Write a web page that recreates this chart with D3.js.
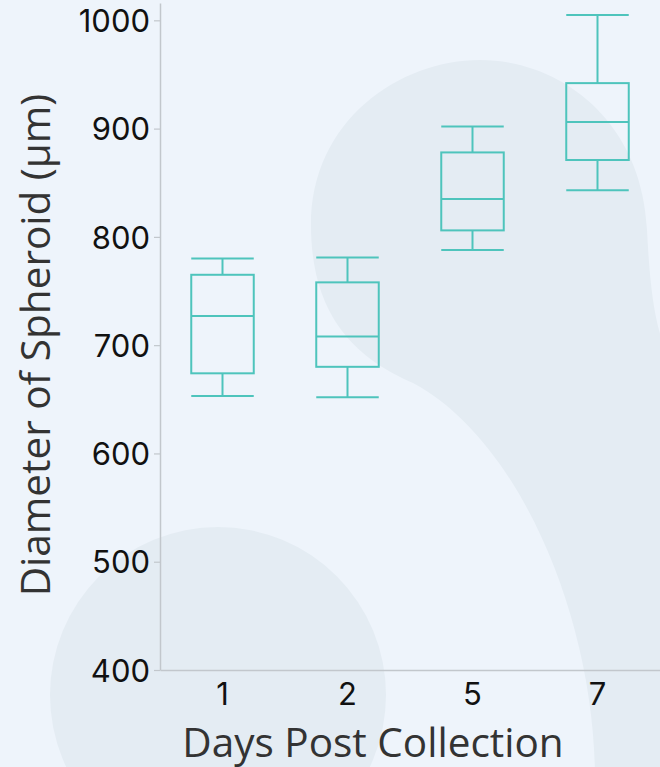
<!DOCTYPE html>
<html><head><meta charset="utf-8">
<script src="https://cdn.jsdelivr.net/npm/d3@7"></script>
<style>html,body{margin:0;padding:0;background:#eef4fb;}svg{display:block;}</style>
</head><body>
<script>
const categories = ["1", "2", "5", "7"];
const whiskerLow = [653, 652, 788, 843];
const q1 = [674, 680, 806, 871];
const median = [727, 708, 835, 906];
const q3 = [765, 758, 878, 942];
const whiskerHigh = [780, 781, 902, 1005];
const yTicks = [400, 500, 600, 700, 800, 900, 1000];

const W = 660, H = 767;
const svg = d3.select("body").append("svg").attr("width", W).attr("height", H);
svg.append("rect").attr("width", W).attr("height", H).attr("fill", "#eef4fb");
const blob = "#e4ecf3";
svg.append("circle").attr("cx", 218).attr("cy", 695).attr("r", 168).attr("fill", blob);
svg.append("path").attr("fill", blob)
  .attr("d", "M311,225 C311,120 400,60 480,60 C560,60 642,120 647,230 C650,290 655,330 670,360 L670,780 L595,780 C595,620 520,440 413,383 C360,360 311,320 311,225 Z");

const x = d3.scaleBand().domain(categories).range([160, 660]).paddingInner(0.5).paddingOuter(0.25);
const y = d3.scaleLinear().domain([400, 1016]).range([670, 3]);

const data = categories.map((c, i) => ({c, lo: whiskerLow[i], q1: q1[i], med: median[i], q3: q3[i], hi: whiskerHigh[i]}));

const axisColor = "#c2c7cc";
const tickFont = "Inter, sans-serif";
// y axis
const yAxis = svg.append("g").attr("transform", "translate(160,0)")
  .call(d3.axisLeft(y).tickValues(yTicks).tickFormat(d3.format("d")).tickSize(6).tickPadding(4).tickSizeOuter(0));
yAxis.select(".domain").attr("stroke", axisColor).attr("stroke-width", 1.5);
yAxis.selectAll(".tick line").attr("stroke", axisColor).attr("stroke-width", 1.2);
yAxis.selectAll(".tick text").attr("font-family", tickFont).attr("font-size", 31).attr("fill", "#111").attr("dy", "0.36em");

const xAxis = svg.append("g").attr("transform", "translate(0,670)")
  .call(d3.axisBottom(x).tickSize(0).tickPadding(13).tickSizeOuter(0));
xAxis.select(".domain").attr("stroke", axisColor).attr("stroke-width", 1.5);
xAxis.selectAll(".tick text").attr("font-family", tickFont).attr("font-size", 31).attr("fill", "#111");

const teal = "#4ec4bc";
const g = svg.append("g").attr("fill", "none").attr("stroke", teal).attr("stroke-width", 2);
const bw = x.bandwidth();
data.forEach(d => {
  const cx = x(d.c) + bw / 2;
  g.append("line").attr("x1", cx).attr("x2", cx).attr("y1", y(d.hi)).attr("y2", y(d.q3));
  g.append("line").attr("x1", cx).attr("x2", cx).attr("y1", y(d.q1)).attr("y2", y(d.lo));
  g.append("line").attr("x1", x(d.c)).attr("x2", x(d.c) + bw).attr("y1", y(d.hi)).attr("y2", y(d.hi));
  g.append("line").attr("x1", x(d.c)).attr("x2", x(d.c) + bw).attr("y1", y(d.lo)).attr("y2", y(d.lo));
  g.append("rect").attr("x", x(d.c)).attr("width", bw).attr("y", y(d.q3)).attr("height", y(d.q1) - y(d.q3));
  g.append("line").attr("x1", x(d.c)).attr("x2", x(d.c) + bw).attr("y1", y(d.med)).attr("y2", y(d.med));
});

svg.append("text").attr("x", 373).attr("y", 757).attr("text-anchor", "middle")
  .attr("font-family", "'Open Sans', sans-serif").attr("font-size", 40.5).attr("fill", "#333")
  .text("Days Post Collection");
svg.append("text").attr("transform", "translate(50,345) rotate(-90)").attr("text-anchor", "middle")
  .attr("font-family", "'Open Sans', sans-serif").attr("font-size", 40.5).attr("fill", "#333")
  .text("Diameter of Spheroid (μm)");
</script>
</body></html>
